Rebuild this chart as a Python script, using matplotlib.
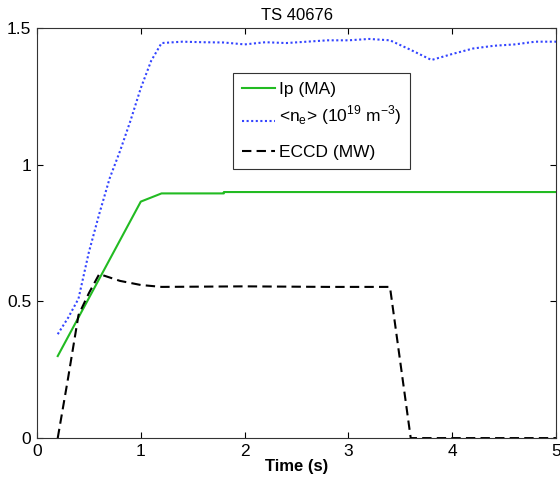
import matplotlib
matplotlib.use("Agg")
from matplotlib import pyplot as plt

# plasma current (MA)
ip_t = [0.2, 1.0, 1.2, 1.8, 1.8, 5.0]
ip_v = [0.30, 0.865, 0.895, 0.895, 0.90, 0.90]

# line averaged density (1e19 m^-3)
ne_t = [0.2, 0.3, 0.4, 0.5, 0.6, 0.7, 0.8, 0.9, 1.0, 1.1, 1.2, 1.4, 1.6, 1.8,
        2.0, 2.2, 2.4, 2.6, 2.8, 3.0, 3.2, 3.4, 3.6, 3.8, 4.0, 4.2, 4.4, 4.6, 4.8, 5.0]
ne_v = [0.38, 0.44, 0.51, 0.68, 0.82, 0.95, 1.05, 1.16, 1.28, 1.38, 1.445, 1.45, 1.448, 1.447,
        1.44, 1.448, 1.445, 1.45, 1.455, 1.455, 1.46, 1.455, 1.42, 1.383, 1.405, 1.425, 1.435, 1.44, 1.45, 1.45]

# ECCD power (MW)
eccd_t = [0.2, 0.3, 0.4, 0.5, 0.6, 0.8, 1.0, 1.2, 2.0, 2.8, 3.4, 3.6, 5.0]
eccd_v = [0.0, 0.22, 0.45, 0.53, 0.60, 0.575, 0.56, 0.553, 0.555, 0.553, 0.553, 0.0, 0.0]

plt.rcParams['font.family'] = ['Liberation Sans', 'DejaVu Sans']
plt.rcParams['mathtext.fontset'] = 'custom'
plt.rcParams['mathtext.rm'] = 'Liberation Sans'

fig = plt.figure(figsize=(5.6, 4.83), dpi=100)
ax = fig.add_axes([0.066, 0.093, 0.927, 0.849])

ax.plot(ip_t, ip_v, color='#22bb22', lw=1.5, label='Ip (MA)')
# trailing newline pushes the next legend row down, like the original
ax.plot(ne_t, ne_v, color='#3344ff', lw=1.5, ls=(0, (1, 1.2)),
        label='<n$_\\mathrm{e}$> (10$^\\mathrm{19}$ m$^\\mathrm{-3}$)\n')
ax.plot(eccd_t, eccd_v, color='black', lw=1.5, ls=(0, (4.5, 2.5)), label='ECCD (MW)')

ax.set_xlim(0, 5)
ax.set_ylim(0, 1.5)
ax.set_xticks([0, 1, 2, 3, 4, 5])
ax.set_yticks([0, 0.5, 1, 1.5])
ax.set_yticklabels(['0', '0.5', '1', '1.5'])
ax.tick_params(direction='in', top=True, right=True, length=4, labelsize=12.5, pad=4)
for s in ax.spines.values():
    s.set_linewidth(0.8)
    s.set_color('#333333')

ax.set_title('TS 40676', fontsize=12, pad=6)
ax.set_xlabel('Time (s)', fontsize=12, fontweight='bold', labelpad=0)

leg = ax.legend(loc='upper left', bbox_to_anchor=(0.378, 0.890), borderaxespad=0,
                fontsize=12.5, fancybox=False, framealpha=1, edgecolor='#333333',
                handlelength=1.9, handletextpad=0.25, labelspacing=0.35, borderpad=0.5)
leg.get_frame().set_linewidth(0.8)
leg.get_texts()[1].set_linespacing(0.8)

plt.savefig('out.png', dpi=100)
